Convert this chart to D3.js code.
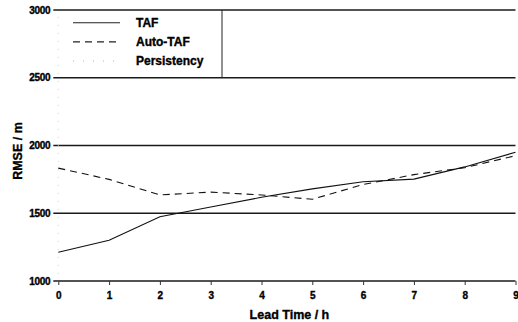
<!DOCTYPE html>
<html>
<head>
<meta charset="utf-8">
<script src="https://cdn.jsdelivr.net/npm/d3@7"></script>
<style>
  body { margin: 0; background: #fff; }
  svg { display: block; font-family: "Liberation Sans", Arial, sans-serif; font-weight: bold; }
  svg text { stroke: #000; stroke-width: 0.35px; }
</style>
</head>
<body>
<div id="chart"></div>
<script>
// values
const leadTimes = [0, 1, 2, 3, 4, 5, 6, 7, 8, 9];
const tafRmse = [1212, 1300, 1474, 1546, 1618, 1680, 1733, 1752, 1842, 1950];
const autoTafRmse = [1833, 1750, 1635, 1656, 1635, 1603, 1712, 1785, 1836, 1925];
const yTicks = [1000, 1500, 2000, 2500, 3000];
const legendNames = ["TAF", "Auto-TAF", "Persistency"];

const W = 518, H = 322;
const margin = { top: 10, right: 2.5, bottom: 41, left: 58.3 };

const svg = d3.select('#chart')
  .append('svg')
  .attr('width', W)
  .attr('height', H)

const x = d3.scaleLinear()
  .domain([0, 9])
  .range([margin.left, W - margin.right]);

const y = d3.scaleLinear()
  .domain([1000, 3000])
  .range([H - margin.bottom, margin.top]);

// horizontal grid lines (they run a few px left of the axis, like ticks)
svg.append('g')
  .selectAll('line')
  .data(yTicks)
  .enter()
  .append('line')
  .attr('x1', x(0) - 5)
  .attr('x2', x(9))
  .attr('y1', d => y(d))
  .attr('y2', d => y(d))
  .attr('stroke', '#1a1a1a')
  .attr('stroke-width', 1.3)

// left axis is almost lost in the scan, keep it faint
svg.append('line')
  .attr('x1', x(0)).attr('x2', x(0))
  .attr('y1', y(1000) + 1).attr('y2', y(3000))
  .attr('stroke', '#c8c8c8')
  .attr('stroke-width', 0.8)
  .attr('stroke-dasharray', '1,7')

const yAxis = svg.append('g')
  .attr('transform', `translate(${x(0)}, 0)`)
  .call(d3.axisLeft(y).tickValues(yTicks).tickSize(0).tickPadding(8).tickFormat(d3.format('d')))
yAxis.select('.domain').remove()
yAxis.selectAll('text')
  .attr('font-size', 10)
  .attr('font-family', '"Liberation Sans", Arial, sans-serif')
  .attr('font-weight', 'bold')
  .attr('fill', '#000')
  .attr('letter-spacing', -0.3)

const xAxis = svg.append('g')
  .attr('transform', `translate(0, ${y(1000)})`)
  .call(d3.axisBottom(x).tickValues(leadTimes).tickSize(4).tickPadding(7).tickFormat(d3.format('d')))
xAxis.select('.domain').remove()
xAxis.selectAll('.tick line').attr('stroke', '#333')
xAxis.selectAll('text')
  .attr('font-size', 10)
  .attr('font-family', '"Liberation Sans", Arial, sans-serif')
  .attr('font-weight', 'bold')
  .attr('fill', '#000')

// axis titles
svg.append('text')
  .attr('x', x(4.55))
  .attr('y', 318.5)
  .attr('text-anchor', 'middle')
  .attr('font-size', 12.5)
  .text('Lead Time / h')

svg.append('text')
  .attr('transform', `translate(21.5, 151) rotate(-90)`)
  .attr('text-anchor', 'middle')
  .attr('font-size', 12.5)
  .text('RMSE / m')

// series
const line = d3.line()
  .x((d, i) => x(leadTimes[i]))
  .y(d => y(d))

svg.append('path')
  .datum(tafRmse)
  .attr('d', line)
  .attr('fill', 'none')
  .attr('stroke', '#111')
  .attr('stroke-width', 1.1)

svg.append('path')
  .datum(autoTafRmse)
  .attr('d', line)
  .attr('fill', 'none')
  .attr('stroke', '#111')
  .attr('stroke-width', 1.1)
  .attr('stroke-dasharray', '7,5')

// legend box (top and bottom coincide with the 3000 / 2500 grid lines)
svg.append('line')
  .attr('x1', 222).attr('x2', 222)
  .attr('y1', y(3000)).attr('y2', y(2500))
  .attr('stroke', '#222')
  .attr('stroke-width', 1)

const dashes = [null, '7,5', '1,9'];
const strokes = ['#222', '#222', '#c4c4c4'];
const legend = svg.append('g')
  .selectAll('g')
  .data(legendNames)
  .enter()
  .append('g')
  .attr('transform', (d, i) => `translate(0, ${22.7 + i * 19.2})`)

legend.append('line')
  .attr('x1', 73).attr('x2', 120)
  .attr('stroke', (d, i) => strokes[i])
  .attr('stroke-width', 1.1)
  .attr('stroke-dasharray', (d, i) => dashes[i])

legend.append('text')
  .attr('x', 136)
  .attr('dy', '0.36em')
  .attr('font-size', 12)
  .text(d => d)
</script>
</body>
</html>
